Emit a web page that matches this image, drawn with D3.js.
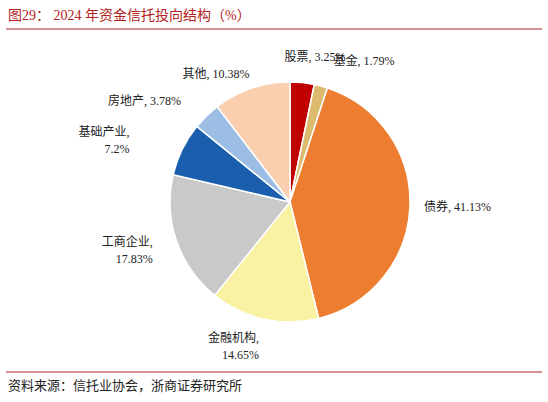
<!DOCTYPE html>
<html><head><meta charset="utf-8">
<script src="https://cdn.jsdelivr.net/npm/d3@7"></script>
<style>body{margin:0;background:#fff}text{font-family:"Liberation Serif","Noto Sans CJK SC",serif}</style>
</head><body><svg id="c" width="548" height="402"></svg>
<script>
const categories=["股票","基金","债券","金融机构","工商企业","基础产业","房地产","其他"];
const values=[3.25,1.79,41.13,14.65,17.83,7.2,3.78,10.38];
const labels=["股票, 3.25%","基金, 1.79%","债券, 41.13%","金融机构,\n14.65%","工商企业,\n17.83%","基础产业,\n7.2%","房地产, 3.78%","其他, 10.38%"];
const colors=["#C00000","#DDBB6E","#ED7D31","#F8F2A2","#C9C9C9","#1B5EAD","#9CBDE4","#F9CFB0"];
const svg=d3.select("#c");
svg.append("text").attr("x",8).attr("y",20).attr("fill","#B22222").attr("font-size",14).text("图29：  2024 年资金信托投向结构（%）");
svg.append("line").attr("x1",6).attr("x2",542).attr("y1",29).attr("y2",29).attr("stroke","#B22222").attr("stroke-width",1);
svg.append("line").attr("x1",6).attr("x2",542).attr("y1",372).attr("y2",372).attr("stroke","#B22222").attr("stroke-width",1);
svg.append("text").attr("x",8).attr("y",390).attr("font-size",13).attr("fill","#222").text("资料来源：信托业协会，浙商证券研究所");
const cx=290,cy=202,R=120;
const pie=d3.pie().sort(null).value(d=>d)(values);
const arc=d3.arc().innerRadius(0).outerRadius(R);
const g=svg.append("g").attr("transform",`translate(${cx},${cy})`);
g.selectAll("path").data(pie).join("path").attr("d",arc).attr("fill",(d,i)=>colors[i]).attr("stroke","#fff").attr("stroke-width",1.5);
const la=d3.arc().innerRadius(R+22).outerRadius(R+22);
const adj=[[-20,-4],[7,-4],[-8,0],[0,5],[-3,2],[-33,0],[-10,1],[5,7]];
pie.forEach((d,i)=>{
  const [x,y]=la.centroid(d);
  const mid=(d.startAngle+d.endAngle)/2;
  const right=Math.sin(mid)>0.05, left=Math.sin(mid)<-0.05;
  const lines=labels[i].split("\n");
  const t=g.append("text").attr("font-size",12).attr("fill","#222")
    .attr("text-anchor",right?"start":left?"end":"middle")
    .attr("transform",`translate(${x+adj[i][0]},${y+adj[i][1]})`);
  lines.forEach((l,k)=>t.append("tspan").attr("x",0).attr("dy",k?17:(lines.length>1?-4:4)).text(l));
});
</script></body></html>
